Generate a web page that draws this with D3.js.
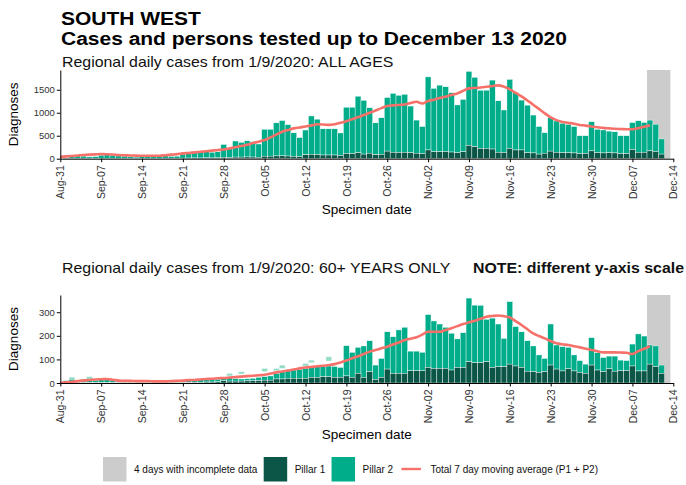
<!DOCTYPE html>
<html lang="en">
<head>
<meta charset="UTF-8">
<title>South West - cases and persons tested</title>
<script src="https://d3js.org/d3.v7.min.js"></script>
<style>
  body { margin: 0; background: #fff; font-family: 'Liberation Sans', Arial, sans-serif; }
  svg { display: block; }
  .title { font-size: 18.5px; font-weight: bold; fill: #000; }
  .subtitle { font-size: 14px; fill: #111; }
  .note { font-size: 14px; font-weight: bold; fill: #111; }
  .axis text { font-size: 10.5px; fill: #333; font-family: 'Liberation Sans', Arial, sans-serif; }
  .axis.yax text { font-size: 9.5px; }
  .axis path, .axis line { stroke: #000; }
  .axis-label { font-size: 13.5px; fill: #000; }
  .legend text { font-size: 10px; fill: #111; }
</style>
</head>
<body>
<svg width="686" height="485"></svg>
<script>
// bars run from 1 Sep to 12 Dec, the 7 day average from 31 Aug to 10 Dec
const barStart = new Date(Date.UTC(2020, 8, 1));
const avgStart = new Date(Date.UTC(2020, 7, 31));

// ---- all ages ----
const allTotal = [
  25, 45, 60, 55, 40, 45, 75, 85, 70, 60, 55, 40, 35, 50, 55, 45, 55, 60, 50, 55,
  100, 120, 140, 130, 160, 140, 150, 310, 225, 385,
  356, 391, 370, 320, 640, 640, 780, 830, 740, 565, 460, 624, 930, 860, 650, 650,
  650, 560, 1120, 1120, 1360, 1270, 1110, 780, 890, 1330, 1420, 1380, 1400, 1145, 840,
  700, 1780, 1530, 1600, 1565, 1435, 1170, 1290, 1900, 1770, 1490, 1490, 1710, 1260,
  1060, 1725, 1435, 1275, 1165, 950, 700, 565, 900, 820, 770, 745, 700, 500, 500, 805,
  640, 625, 600, 585, 500, 500, 785, 825, 790, 840, 750, 430
];
const allPillar1 = [
  5, 6, 8, 7, 5, 5, 8, 9, 8, 7, 6, 5, 5, 6, 7, 6, 7, 8, 7, 8,
  12, 14, 16, 15, 18, 16, 18, 30, 25, 35,
  35, 38, 36, 32, 55, 55, 60, 62, 58, 50, 45, 85, 95, 90, 80, 80,
  80, 70, 115, 110, 130, 100, 120, 85, 95, 165, 140, 135, 140, 130, 120,
  110, 190, 150, 150, 155, 145, 130, 150, 290, 260, 225, 225, 210, 140,
  135, 225, 190, 190, 130, 125, 100, 120, 165, 140, 130, 130, 125, 110, 115, 170,
  130, 125, 130, 125, 110, 110, 200, 140, 140, 170, 155, 100
];
const allAvg = [
  40,
  50, 60, 70, 80, 88, 95, 100, 98, 90, 80, 75, 70, 66, 65, 64, 64, 65, 75, 88, 100,
  115, 125, 138, 150, 162, 175, 188, 200, 225, 250,
  275, 305, 340, 370, 405, 465, 525, 585, 625, 660, 680, 700, 725, 750, 745, 735,
  750, 780, 815, 860, 905, 950, 1000, 1050, 1100, 1145, 1160, 1170, 1180, 1210, 1240,
  1200, 1255, 1285, 1320, 1350, 1385, 1420, 1475, 1530, 1540, 1550, 1565, 1580, 1595,
  1565, 1510, 1430, 1355, 1265, 1175, 1080, 985, 900, 840, 800, 780, 760, 735, 720, 700,
  685, 670, 660, 650, 645, 640, 642, 665, 695, 725
];

// ---- 60+ only ----
const oldTotal = [
  10, 22, 12, 15, 25, 10, 15, 20, 12, 8, 8, 6, 5, 8, 8, 7, 6, 8, 6, 7,
  10, 12, 12, 15, 18, 14, 16, 22, 25, 18,
  17, 18, 20, 24, 27, 30, 41, 48, 55, 55, 58, 62, 66, 69, 69, 72,
  70, 66, 158, 130, 151, 157, 179, 76, 104, 217, 196, 225, 236, 135, 135,
  130, 290, 263, 250, 236, 211, 187, 213, 360, 330, 329, 270, 275, 250,
  189, 345, 239, 217, 179, 157, 119, 104, 250, 161, 154, 151, 119, 95, 80, 192,
  128, 108, 114, 114, 97, 95, 165, 208, 199, 161, 157, 76
];
const oldPillar1 = [
  1, 2, 1, 2, 2, 1, 2, 2, 1, 1, 1, 1, 1, 1, 1, 1, 1, 1, 1, 1,
  2, 2, 3, 3, 4, 4, 5, 10, 8, 8,
  8, 9, 10, 10, 12, 12, 17, 17, 20, 20, 20, 20, 24, 24, 27, 27,
  24, 24, 30, 24, 41, 24, 48, 15, 24, 59, 41, 41, 41, 52, 52,
  52, 66, 62, 62, 62, 55, 66, 66, 90, 86, 86, 90, 66, 69,
  69, 80, 72, 66, 50, 48, 45, 48, 76, 59, 51, 60, 51, 45, 41, 76,
  55, 48, 60, 50, 52, 52, 72, 51, 51, 80, 69, 41
];
const oldAvg = [
  0,
  3, 5, 8, 11, 13, 15, 16, 17, 14, 10, 9, 9, 8, 8, 8, 7, 7, 7, 8, 9,
  10, 12, 13, 15, 17, 18, 20, 21, 23, 25,
  27, 29, 31, 33, 35, 40, 45, 49, 53, 57, 62, 66, 68, 71, 73, 76,
  80, 87, 95, 105, 113, 123, 133, 140, 147, 154, 163, 172, 182, 188, 194,
  205, 217, 217, 217, 225, 232, 241, 250, 257, 264, 272, 281, 284, 286,
  283, 278, 262, 246, 228, 210, 199, 189, 178, 168, 164, 161, 156, 151, 145, 140,
  135, 130, 130, 130, 129, 128, 123, 135, 145, 156
];
// small light pieces floating above some 60+ bars: [date, from, to]
const oldCaps = [
  ["2020-09-02", 15, 25], ["2020-09-05", 18, 27], ["2020-09-29", 30, 41],
  ["2020-10-01", 38, 48], ["2020-10-05", 48, 62], ["2020-10-07", 52, 62],
  ["2020-10-08", 62, 76], ["2020-10-12", 72, 83], ["2020-10-13", 86, 97],
  ["2020-10-16", 93, 111]
];

const incompleteFrom = new Date(Date.UTC(2020, 11, 9, 12));
const incompleteTo = new Date(Date.UTC(2020, 11, 13, 12));

const colP1 = "#0b5646";
const colP2 = "#00ad8b";
const colCap = "#93dcc8";
const colAvg = "#f6716a";
const colGrey = "#cccccc";

// the source picture is a little wider than tall, so text is stretched sideways
const stretch = 1.135;

const svg = d3.select("svg");
const parseDay = d3.utcParse("%Y-%m-%d");

function wideText(sel, cls, tx, ty, str) {
  return sel.append("text").attr("class", cls)
    .attr("transform", `translate(${tx},${ty}) scale(${stretch},1)`)
    .text(str);
}

const x = d3.scaleUtc()
  .domain([new Date(Date.UTC(2020, 7, 31)), new Date(Date.UTC(2020, 11, 14))])
  .range([60.3, 673.3]);
const weekTicks = d3.utcMonday.range(new Date(Date.UTC(2020, 7, 31)), new Date(Date.UTC(2020, 11, 15)));

// titles
wideText(svg, "title", 61, 25, "SOUTH WEST");
wideText(svg, "title", 61, 45, "Cases and persons tested up to December 13 2020");

function drawPanel(cfg) {
  const y = d3.scaleLinear().domain([0, cfg.yMax]).range([cfg.bottom, cfg.top]);
  const g = svg.append("g");

  wideText(g, "subtitle", 62, cfg.subY, cfg.subtitle);

  g.append("rect")
    .attr("x", x(incompleteFrom)).attr("y", cfg.top)
    .attr("width", x(incompleteTo) - x(incompleteFrom))
    .attr("height", cfg.bottom - cfg.top)
    .attr("fill", colGrey);

  const rows = cfg.total.map((t, i) => ({
    date: d3.utcDay.offset(barStart, i), total: t, p1: cfg.p1[i]
  }));
  const left = d => x(d3.utcHour.offset(d, -12));
  const wid = d => x(d3.utcHour.offset(d, 12)) - x(d3.utcHour.offset(d, -12));

  g.append("g").selectAll("rect").data(rows).join("rect")
    .attr("x", d => left(d.date)).attr("width", d => wid(d.date))
    .attr("y", d => y(d.total)).attr("height", d => y(d.p1) - y(d.total))
    .attr("fill", colP2).attr("stroke", "#fff").attr("stroke-width", 0.4);

  g.append("g").selectAll("rect").data(rows).join("rect")
    .attr("x", d => left(d.date)).attr("width", d => wid(d.date))
    .attr("y", d => y(d.p1)).attr("height", d => y(0) - y(d.p1))
    .attr("fill", colP1).attr("stroke", "#fff").attr("stroke-width", 0.4);

  if (cfg.caps) {
    g.append("g").selectAll("rect").data(cfg.caps).join("rect")
      .attr("x", d => left(parseDay(d[0]))).attr("width", d => wid(parseDay(d[0])))
      .attr("y", d => y(d[2])).attr("height", d => y(d[1]) - y(d[2]))
      .attr("fill", colCap).attr("stroke", "#fff").attr("stroke-width", 0.4);
  }

  const avgRows = cfg.avg.map((v, i) => ({ date: d3.utcDay.offset(avgStart, i), v: v }));
  g.append("path")
    .datum(avgRows)
    .attr("fill", "none")
    .attr("stroke", colAvg)
    .attr("stroke-width", 2.6)
    .attr("stroke-linejoin", "round")
    .attr("d", d3.line().x(d => x(d.date)).y(d => y(d.v)).curve(d3.curveMonotoneX));

  g.append("g").attr("class", "axis yax")
    .attr("transform", `translate(${x.range()[0]},0)`)
    .call(d3.axisLeft(y).tickValues(cfg.yTicks).tickFormat(d3.format("d"))
      .tickSize(3.5).tickPadding(2).tickSizeOuter(0));

  const xa = g.append("g").attr("class", "axis")
    .attr("transform", `translate(0,${cfg.bottom})`)
    .call(d3.axisBottom(x).tickValues(weekTicks).tickFormat(d3.utcFormat("%b-%d"))
      .tickSize(3.5).tickSizeOuter(0));
  xa.selectAll("text")
    .attr("transform", "rotate(-90)")
    .attr("text-anchor", "end")
    .attr("x", -6.5).attr("y", 0).attr("dy", "0.35em");

  g.append("text").attr("class", "axis-label")
    .attr("transform", `translate(18,${(cfg.top + cfg.bottom) / 2}) rotate(-90)`)
    .attr("text-anchor", "middle").text("Diagnoses");

  g.append("text").attr("class", "axis-label")
    .attr("x", (x.range()[0] + x.range()[1]) / 2).attr("y", cfg.bottom + 55.5)
    .attr("text-anchor", "middle").text("Specimen date");

  return g;
}

drawPanel({
  top: 70, bottom: 158.7, yMax: 1930, yTicks: [0, 500, 1000, 1500], subY: 66.5,
  subtitle: "Regional daily cases from 1/9/2020: ALL AGES",
  total: allTotal, p1: allPillar1, avg: allAvg
});
const p2 = drawPanel({
  top: 295, bottom: 383, yMax: 373, yTicks: [0, 100, 200, 300], subY: 272.5,
  subtitle: "Regional daily cases from 1/9/2020: 60+ YEARS ONLY",
  total: oldTotal, p1: oldPillar1, avg: oldAvg, caps: oldCaps
});
wideText(p2, "note", 473, 272.5, "NOTE: different y-axis scale");

// legend: keys and labels laid out left to right between legendLeft and legendRight
const legendLeft = 103, legendRight = 598, keySize = 23.5, keyGap = 7.5;
const legendItems = [
  { label: "4 days with incomplete data", kind: "box", fill: colGrey },
  { label: "Pillar 1", kind: "box", fill: colP1 },
  { label: "Pillar 2", kind: "box", fill: colP2 },
  { label: "Total 7 day moving average (P1 + P2)", kind: "line", fill: colAvg }
];
const legend = svg.append("g").attr("class", "legend");
const labels = legendItems.map(it =>
  legend.append("text").attr("y", 472.5).text(it.label));
const textW = labels.map(t => t.node().getComputedTextLength());
const itemGap = Math.max(4, (legendRight - legendLeft - d3.sum(textW) - legendItems.length * (keySize + keyGap))
  / (legendItems.length - 1));
let cx = legendLeft;
legendItems.forEach((it, i) => {
  if (it.kind === "box") {
    legend.append("rect").attr("x", cx).attr("y", 457).attr("width", keySize).attr("height", keySize + 1)
      .attr("fill", it.fill);
  } else {
    legend.append("line").attr("x1", cx + 2).attr("x2", cx + keySize - 2).attr("y1", 469).attr("y2", 469)
      .attr("stroke", it.fill).attr("stroke-width", 2.4);
  }
  labels[i].attr("x", cx + keySize + keyGap);
  cx += keySize + keyGap + textW[i] + itemGap;
});
</script>
</body>
</html>
